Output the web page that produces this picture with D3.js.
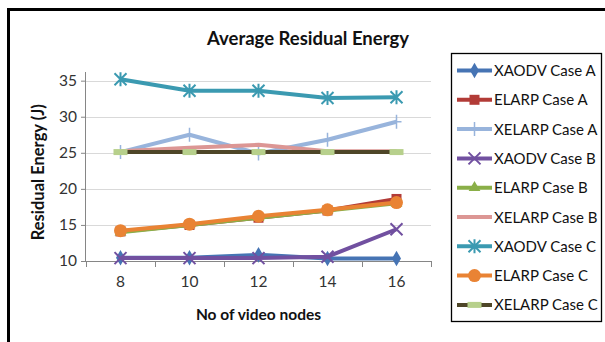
<!DOCTYPE html>
<html>
<head>
<meta charset="utf-8">
<script src="https://cdn.jsdelivr.net/npm/d3@7"></script>
<style>
  body { margin: 0; background: #fff; }
  svg { display: block; font-family: Lato, "Open Sans", sans-serif; }
</style>
</head>
<body>
<div id="chart-area"></div>
<script>
// categories and values
let nodes = ["8", "10", "12", "14", "16"];
let seriesNames = ["XAODV Case A", "ELARP Case A", "XELARP Case A",
                   "XAODV Case B", "ELARP Case B", "XELARP Case B",
                   "XAODV Case C", "ELARP Case C", "XELARP Case C"];
let xaodvA  = [10.45, 10.45, 10.85, 10.35, 10.35];
let elarpA  = [14.1, 15.0, 16.0, 17.0, 18.6];
let xelarpA = [25.1, 27.5, 24.9, 26.8, 29.3];
let xaodvB  = [10.4, 10.4, 10.4, 10.6, 14.4];
let elarpB  = [14.0, 15.0, 16.0, 17.0, 18.0];
let xelarpB = [25.2, 25.7, 26.1, 25.2, 25.2];
let xaodvC  = [35.2, 33.6, 33.6, 32.6, 32.7];
let elarpC  = [14.2, 15.1, 16.2, 17.1, 18.1];
let xelarpC = [25.1, 25.1, 25.1, 25.1, 25.1];
let yTicks = [10, 15, 20, 25, 30, 35];

let styles = [
    {color: "#4674b4", marker: "diamond"},
    {color: "#b23b37", marker: "square"},
    {color: "#98b4dc", marker: "plus"},
    {color: "#7150a0", marker: "cross"},
    {color: "#8aaf48", marker: "triangle"},
    {color: "#dc9694", marker: "none"},
    {color: "#3b9ab1", marker: "star"},
    {color: "#e98334", marker: "circle"},
    {color: "#4e4628", marker: "dash"}
];
let allValues = [xaodvA, elarpA, xelarpA, xaodvB, elarpB, xelarpB, xaodvC, elarpC, xelarpC];
// drawing order: first series at bottom
let series = seriesNames.map(function(name, i){
    return {name: name, values: allValues[i], style: styles[i]};
});

let W = 605, H = 342;
let margin = {left: 86, right: 174, top: 72, bottom: 81};
let width = W - margin.left - margin.right;
let height = H - margin.top - margin.bottom;

let svg = d3.select("#chart-area")
            .append("svg")
            .attr("width", W)
            .attr("height", H);

// outer chart border
svg.append("path")
    .attr("d", "M8.5,345 V9.5 H610")
    .attr("fill", "none")
    .attr("stroke", "#000")
    .attr("stroke-width", 3);

svg.append("text")
    .text("Average Residual Energy")
    .attr("x", 308)
    .attr("y", 45)
    .attr("text-anchor", "middle")
    .attr("font-size", "18.5px")
    .attr("font-weight", "bold")
    .attr("fill", "#111");

let g = svg.append("g")
            .attr("transform", "translate(" + margin.left + "," + margin.top + ")");

let x = d3.scaleBand()
        .domain(nodes)
        .range([0, width]);
let y = d3.scaleLinear()
        .domain([10, 36.2])
        .range([height, 0]);

// grid
g.append("g")
    .selectAll("line")
    .data(yTicks.slice(1))
    .enter()
    .append("line")
    .attr("x1", 0)
    .attr("x2", width)
    .attr("y1", function(d){ return Math.round(y(d)) + 0.5; })
    .attr("y2", function(d){ return Math.round(y(d)) + 0.5; })
    .attr("stroke", "#d9d9d9")
    .attr("stroke-width", 1.2);

// y axis
let yAxis = d3.axisLeft(y).tickValues(yTicks).tickSize(5).tickPadding(4);
let ya = g.append("g").attr("class", "y axis").call(yAxis);
ya.select(".domain").attr("stroke", "#868686").attr("d", "M-0.5," + height + "V0");
ya.selectAll(".tick line").attr("stroke", "#868686");
ya.selectAll("text").attr("font-size", "15.5px").attr("fill", "#333")
    .attr("font-family", "Lato, sans-serif");

// x axis with ticks at band edges
let xAxis = d3.axisBottom(x).tickSize(0).tickPadding(15);
let xa = g.append("g")
    .attr("class", "x axis")
    .attr("transform", "translate(0," + height + ")")
    .call(xAxis);
xa.select(".domain").attr("stroke", "#868686").attr("d", "M0,0.5H" + width);
xa.selectAll("text").attr("font-size", "15.5px").attr("fill", "#333")
    .attr("font-family", "Lato, sans-serif");
xa.selectAll(".edge")
    .data(d3.range(nodes.length + 1))
    .enter()
    .append("line")
    .attr("x1", function(i){ return i * x.bandwidth() + 0.5; })
    .attr("x2", function(i){ return i * x.bandwidth() + 0.5; })
    .attr("y1", 0)
    .attr("y2", 6)
    .attr("stroke", "#868686");

// axis labels
g.append("text")
    .text("No of video nodes")
    .attr("x", width / 2)
    .attr("y", height + 59)
    .attr("text-anchor", "middle")
    .attr("font-size", "15.5px")
    .attr("font-weight", "bold")
    .attr("fill", "#111");

g.append("text")
    .text("Residual Energy (J)")
    .attr("transform", "rotate(-90)")
    .attr("x", -(y(22.3)))
    .attr("y", -42)
    .attr("text-anchor", "middle")
    .attr("font-size", "16.5px")
    .attr("font-weight", "bold")
    .attr("fill", "#111");

let cx = function(i){ return x(nodes[i]) + x.bandwidth() / 2; };

function drawMarker(sel, st, px, py, scale) {
    let s = scale || 1;
    let c = st.color;
    if (st.marker === "diamond") {
        sel.append("path").attr("d", d3.symbol(d3.symbolDiamond, 70 * s)())
            .attr("transform", "translate(" + px + "," + py + ")").attr("fill", c);
    } else if (st.marker === "square") {
        sel.append("rect").attr("x", px - 5 * s).attr("y", py - 5 * s)
            .attr("width", 10 * s).attr("height", 10 * s).attr("fill", c);
    } else if (st.marker === "triangle") {
        sel.append("path").attr("d", d3.symbol(d3.symbolTriangle, 60 * s)())
            .attr("transform", "translate(" + px + "," + py + ")").attr("fill", c);
    } else if (st.marker === "circle") {
        sel.append("circle").attr("cx", px).attr("cy", py).attr("r", 6.5 * s).attr("fill", c);
    } else if (st.marker === "plus") {
        sel.append("path").attr("d", "M" + (px - 5) + "," + py + "H" + (px + 5) + "M" + px + "," + (py - 7) + "V" + (py + 7))
            .attr("stroke", c).attr("stroke-width", 1.5);
    } else if (st.marker === "cross") {
        let r = 6;
        sel.append("path").attr("d", "M" + (px - r) + "," + (py - r) + "L" + (px + r) + "," + (py + r) + "M" + (px - r) + "," + (py + r) + "L" + (px + r) + "," + (py - r))
            .attr("stroke", c).attr("stroke-width", 2);
    } else if (st.marker === "star") {
        let r = 6;
        sel.append("path").attr("d", "M" + (px - r) + "," + (py - r) + "L" + (px + r) + "," + (py + r) + "M" + (px - r) + "," + (py + r) + "L" + (px + r) + "," + (py - r) + "M" + px + "," + (py - r - 1) + "V" + (py + r + 1))
            .attr("stroke", c).attr("stroke-width", 2);
    } else if (st.marker === "dash") {
        sel.append("rect").attr("x", px - 7 * s).attr("y", py - 3).attr("width", 14 * s).attr("height", 6)
            .attr("fill", "#b7d08c");
    }
}

let line = d3.line()
    .x(function(d, i){ return cx(i); })
    .y(function(d){ return y(d); });

series.forEach(function(s){
    let sg = g.append("g").attr("class", "series");
    sg.append("path")
        .datum(s.values)
        .attr("d", line)
        .attr("fill", "none")
        .attr("stroke", s.style.color)
        .attr("stroke-width", 4)
        .attr("stroke-linejoin", "round");
    s.values.forEach(function(v, i){
        drawMarker(sg, s.style, cx(i), y(v));
    });
});

// legend
svg.append("rect")
    .attr("x", 451.5)
    .attr("y", 53.5)
    .attr("width", 150)
    .attr("height", 268)
    .attr("fill", "#fff")
    .attr("stroke", "#000")
    .attr("stroke-width", 1.3);

let legend = svg.append("g");
series.forEach(function(s, i){
    let ly = 70.5 + i * 29.3;
    let lg = legend.append("g");
    lg.append("line")
        .attr("x1", 457).attr("x2", 492)
        .attr("y1", ly).attr("y2", ly)
        .attr("stroke", s.style.color)
        .attr("stroke-width", 4);
    drawMarker(lg, s.style, 474.5, ly, 1);
    lg.append("text")
        .text(s.name)
        .attr("x", 494)
        .attr("y", ly + 5.5)
        .attr("font-size", "15px")
        .attr("fill", "#111");
});
</script>
</body>
</html>
